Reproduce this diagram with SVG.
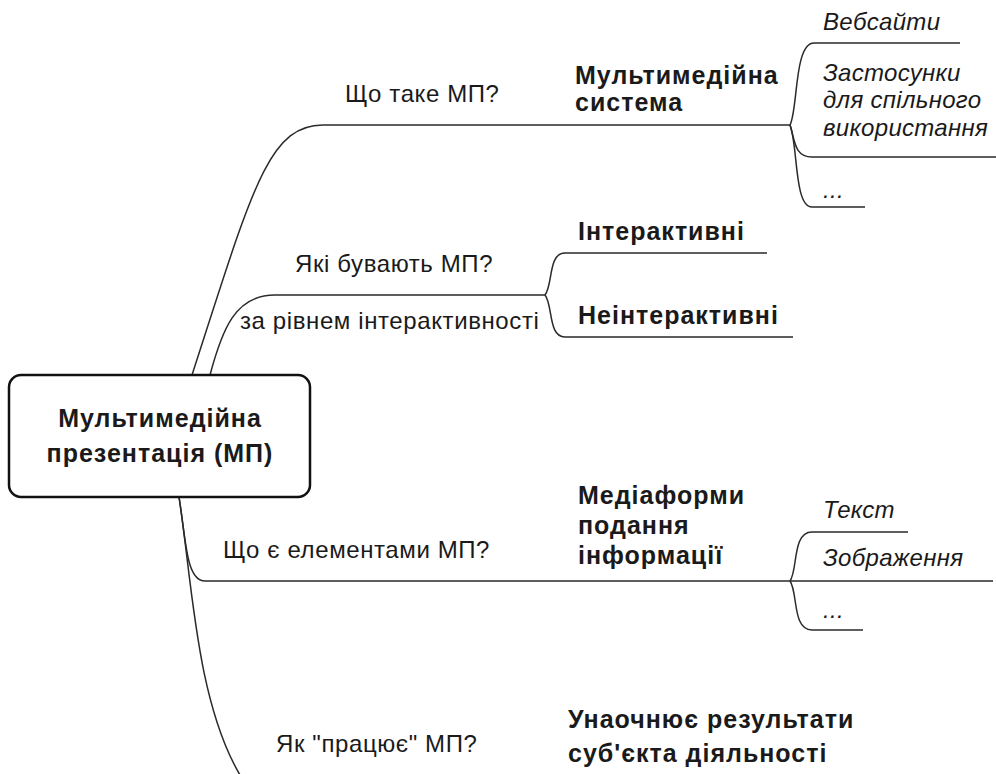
<svg xmlns="http://www.w3.org/2000/svg" width="996" height="774" viewBox="0 0 996 774">
<style>
text{font-family:"Liberation Sans",Arial,sans-serif;fill:#1a1a1a;font-size:24px;letter-spacing:0.6px}
.b{font-weight:bold;font-size:25px;letter-spacing:1px}
.i{font-style:italic;letter-spacing:0.3px}
.c{fill:none;stroke:#2a2a2a;stroke-width:1.5}
.n{fill:#fff;stroke:#111;stroke-width:2.5}
</style>
<g id="connectors">
<path class="c" d="M192,375 C252,190 268,125 323,125 L790,125"/>
<path class="c" d="M790,125 C798,110 794,43 814,43 L960,43"/>
<path class="c" d="M790,125 C795,140 794,157 812,157 L996,157"/>
<path class="c" d="M790,125 C798,145 794,207 812,207 L865,207"/>
<path class="c" d="M210,375 C222,330 235,295 275,295 L545,295"/>
<path class="c" d="M545,295 C553,285 548,253 565,253 L767,253"/>
<path class="c" d="M545,295 C553,305 548,337 565,337 L793,337"/>
<path class="c" d="M179,497 C186,540 186,581 205,581 L993,581"/>
<path class="c" d="M790,581 C798,570 792,532 812,532 L908,532"/>
<path class="c" d="M790,581 C798,592 792,630 812,630 L863,630"/>
<path class="c" d="M179,497 C192,580 196,700 240,775"/>
</g>
<g id="root">
<rect class="n" x="9" y="375" width="301" height="122" rx="12"/>
<text class="b" x="160" y="427" text-anchor="middle">Мультимедійна</text>
<text class="b" x="160" y="462" text-anchor="middle">презентація (МП)</text>
</g>
<g id="q1"><text x="345" y="102">Що таке МП?</text></g>
<g id="mm"><text class="b" x="575" y="84">Мультимедійна</text><text class="b" x="575" y="111">система</text></g>
<g id="web"><text class="i" x="823" y="30">Вебсайти</text></g>
<g id="apps"><text class="i" x="823" y="81">Застосунки</text><text class="i" x="823" y="108">для спільного</text><text class="i" x="823" y="136">використання</text></g>
<g id="etc1"><text class="i" x="823" y="198">...</text></g>
<g id="q2"><text x="295" y="272">Які бувають МП?</text><text x="240" y="329">за рівнем інтерактивності</text></g>
<g id="int"><text class="b" x="578" y="240">Інтерактивні</text></g>
<g id="nonint"><text class="b" x="578" y="324">Неінтерактивні</text></g>
<g id="q3"><text x="223" y="558">Що є елементами МП?</text></g>
<g id="media"><text class="b" x="578" y="504">Медіаформи</text><text class="b" x="578" y="534">подання</text><text class="b" x="578" y="564">інформації</text></g>
<g id="txt"><text class="i" x="823" y="518">Текст</text></g>
<g id="img"><text class="i" x="823" y="566">Зображення</text></g>
<g id="etc2"><text class="i" x="823" y="618">...</text></g>
<g id="q4"><text x="276" y="752">Як "працює" МП?</text></g>
<g id="vis"><text class="b" x="568" y="728">Унаочнює результати</text><text class="b" x="568" y="762">суб'єкта діяльності</text></g>
</svg>
